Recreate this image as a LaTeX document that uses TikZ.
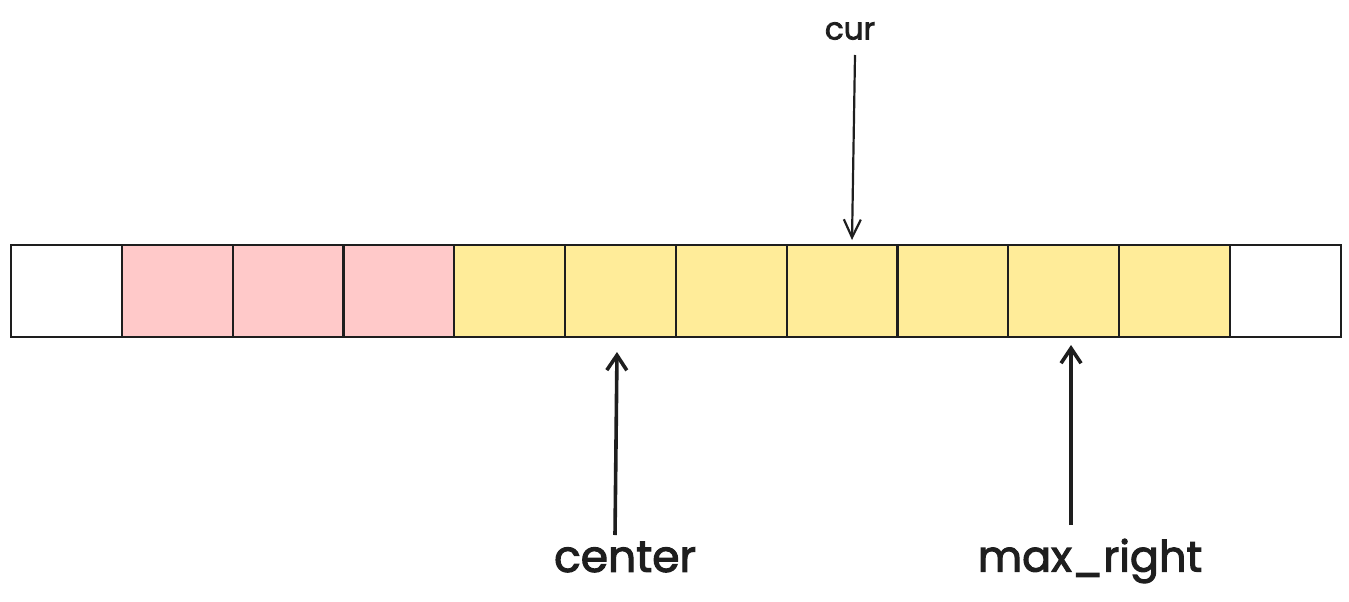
\documentclass[tikz,border=0pt]{standalone}
\usepackage{fontspec}
\setmainfont{Poppins}
\newfontfamily\lblfont{Poppins}[FakeBold=2.5]
\usetikzlibrary{arrows.meta}
\definecolor{ink}{HTML}{1E1E1E}
\definecolor{pinkfill}{HTML}{FFC9C9}
\definecolor{yellowfill}{HTML}{FFEC99}
\tikzset{
  cell/.style={draw=ink, line width=2.2pt, minimum width=110.8pt, minimum height=92pt, inner sep=0pt, anchor=north west},
  whitecell/.style={cell, fill=white},
  pinkcell/.style={cell, fill=pinkfill},
  yellowcell/.style={cell, fill=yellowfill},
  thinarrow/.style={draw=ink, line width=2.2pt, -{Straight Barb[length=18pt,width=17pt,line width=2.2pt]}},
  thickarrow/.style={draw=ink, line width=3.6pt, -{Straight Barb[length=15pt,width=20pt,line width=3.6pt]}},
  lbl/.style={text=ink, inner sep=0pt}
}
\begin{document}
\begin{tikzpicture}[x=1pt,y=-1pt]
\useasboundingbox (0,0) rectangle (1349,602);
\foreach \i/\s in {0/whitecell,1/pinkcell,2/pinkcell,3/pinkcell,4/yellowcell,5/yellowcell,6/yellowcell,7/yellowcell,8/yellowcell,9/yellowcell,10/yellowcell,11/whitecell}{
  \node[\s] (c\i) at ({10+110.8*\i},244) {};
}
\node[lbl, font=\lblfont\fontsize{31}{34}\selectfont] (cur) at (850,31) {cur};
\node[lbl, font=\lblfont\fontsize{44}{48}\selectfont] (center) at (625,557) {center};
\node[lbl, font=\lblfont\fontsize{43}{48}\selectfont] (maxr) at (1090,561) {max\_right};
\coordinate (curtop) at (855,55);
\coordinate (curtip) at (852,240);
\coordinate (cenbot) at (615,535);
\coordinate (centip) at (617,352);
\coordinate (mxbot) at (1071,525);
\coordinate (mxtip) at (1071,345);
\draw[thinarrow] (curtop) -- (curtip);
\draw[thickarrow] (cenbot) -- (centip);
\draw[thickarrow] (mxbot) -- (mxtip);
\end{tikzpicture}
\end{document}
